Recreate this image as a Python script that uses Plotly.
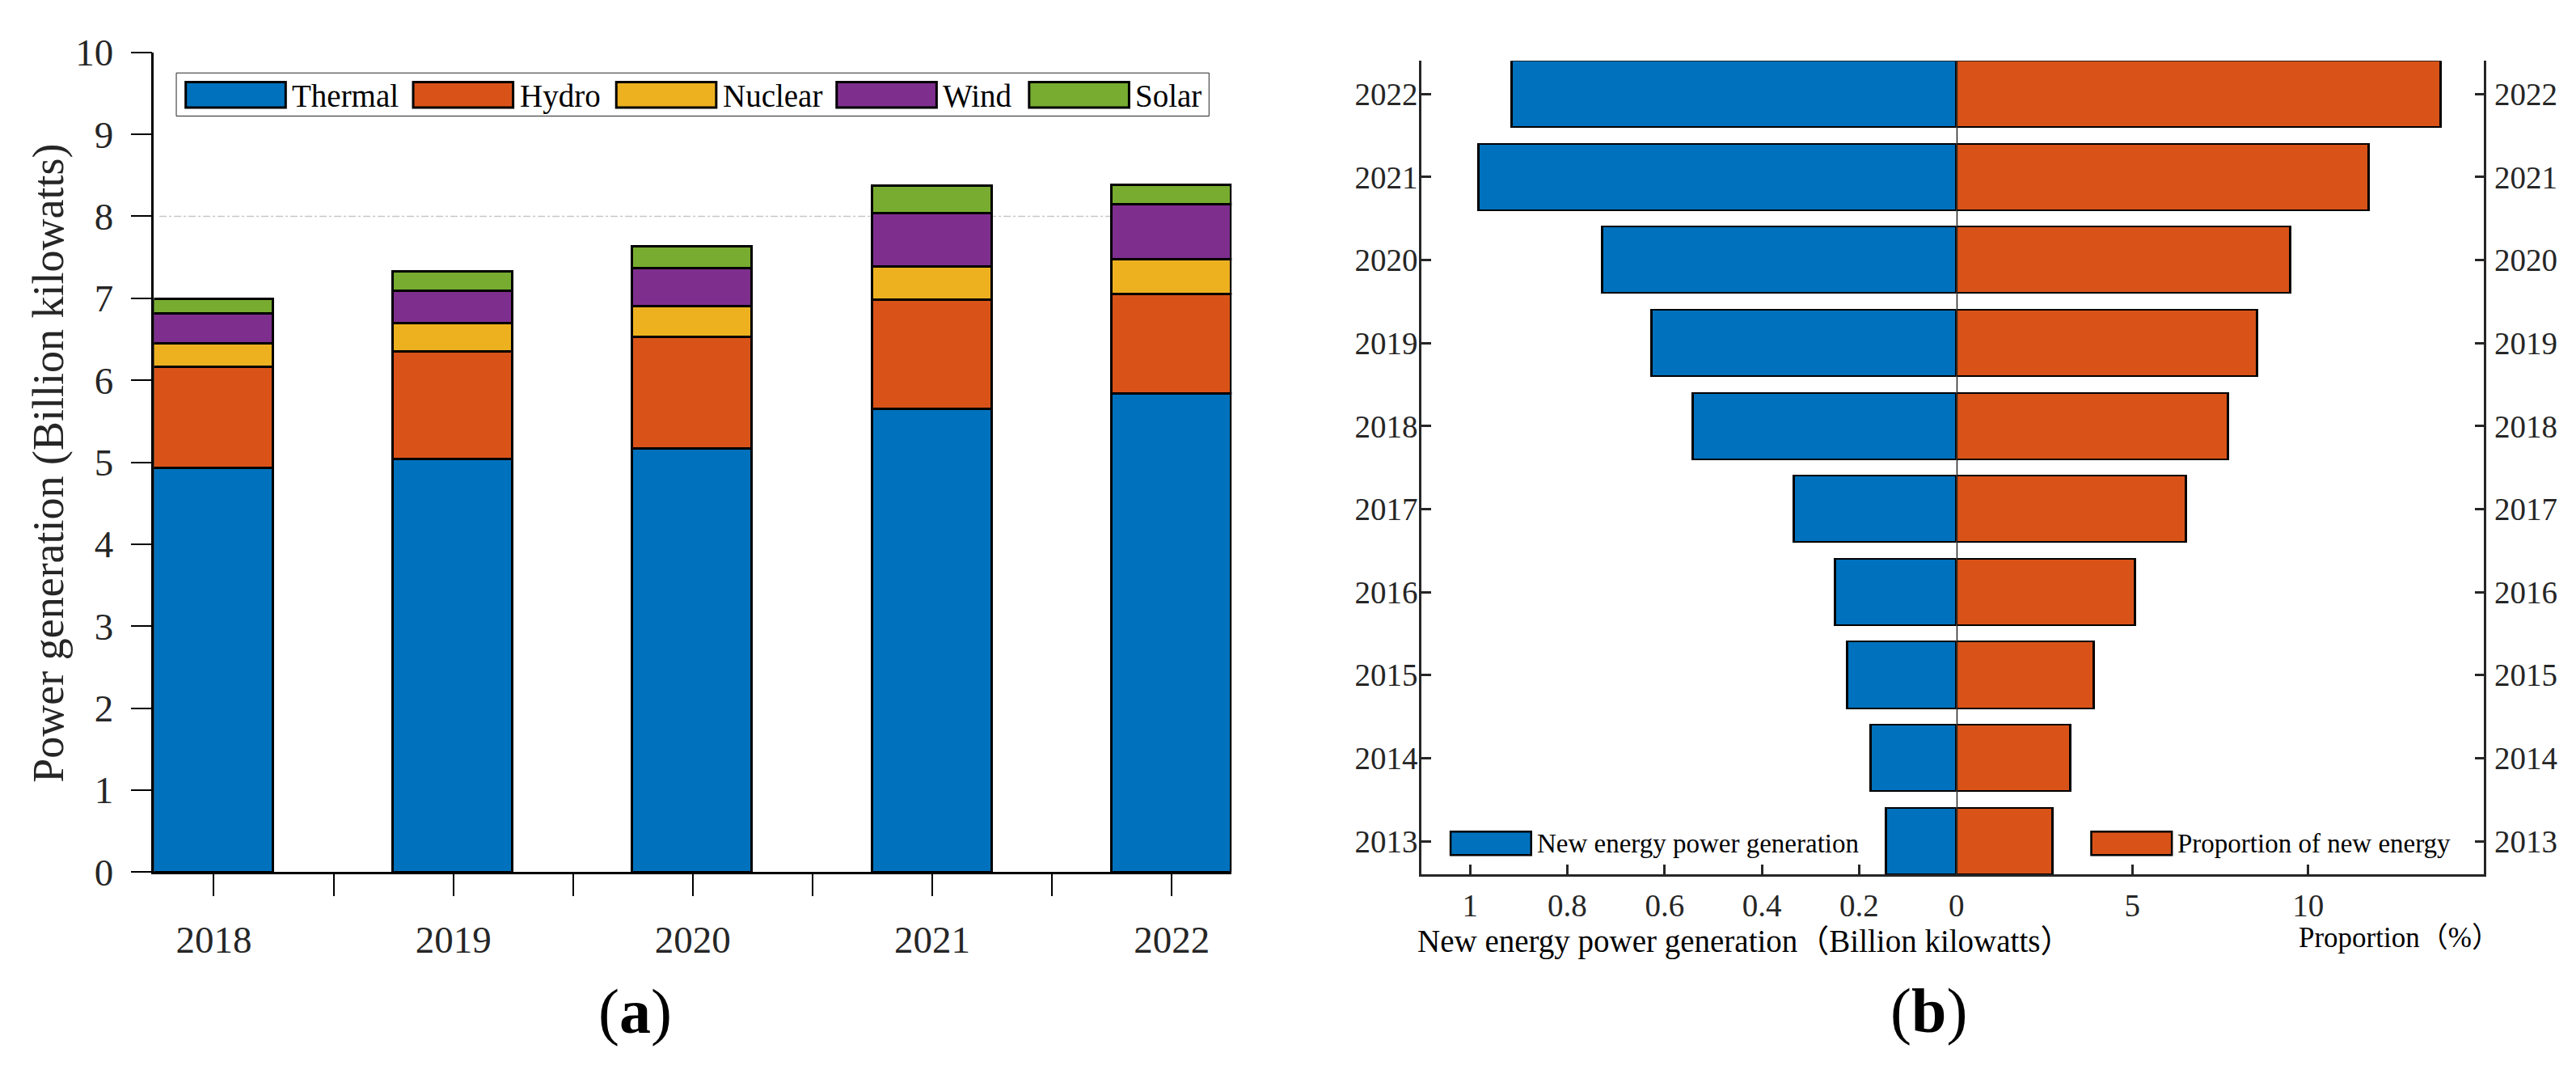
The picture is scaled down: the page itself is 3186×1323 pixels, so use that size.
import plotly.graph_objects as go

# ---------------- data ----------------
years_a = ["2018", "2019", "2020", "2021", "2022"]
series_names = ["Thermal", "Hydro", "Nuclear", "Wind", "Solar"]
thermal = [4.93, 5.04, 5.17, 5.65, 5.84]
hydro = [1.23, 1.31, 1.36, 1.33, 1.21]
nuclear = [0.29, 0.34, 0.37, 0.41, 0.42]
wind = [0.36, 0.40, 0.47, 0.65, 0.68]
solar = [0.18, 0.24, 0.26, 0.33, 0.23]

years_b = [2013, 2014, 2015, 2016, 2017, 2018, 2019, 2020, 2021, 2022]
new_energy = [0.144, 0.176, 0.224, 0.249, 0.333, 0.541, 0.627, 0.727, 0.982, 0.914]
proportion = [2.73, 3.23, 3.90, 5.09, 6.52, 7.72, 8.55, 9.50, 11.71, 13.76]

yticks_a = [0, 1, 2, 3, 4, 5, 6, 7, 8, 9, 10]
xticks_b_left = [1, 0.8, 0.6, 0.4, 0.2, 0]
xticks_b_right = [5, 10]
legend_b_names = ["New energy power generation", "Proportion of new energy"]

# ---------------- styling ----------------
W, H = 3186, 1323
FONT = "Liberation Serif, Times New Roman, Noto Sans CJK SC, serif"
COLORS = ["#0072BD", "#D95319", "#EDB120", "#7E2F8E", "#77AC30"]
AX = "#262626"


def px(x):
    return x / W


def py(y):
    return 1 - y / H


fig = go.Figure()

# ---------------- panel (a): stacked bars ----------------
xpos = list(range(len(years_a)))
for name, vals, col in zip(series_names, [thermal, hydro, nuclear, wind, solar], COLORS):
    fig.add_trace(go.Bar(
        x=xpos, y=vals, name=name, width=0.5,
        marker=dict(color=col, line=dict(color="black", width=3)),
        xaxis="x", yaxis="y", showlegend=False,
    ))

tickvals_a = []
ticktext_a = []
for i, yr in enumerate(years_a):
    tickvals_a.append(i)
    ticktext_a.append(yr)
    if i < len(years_a) - 1:
        tickvals_a.append(i + 0.5)
        ticktext_a.append("")

# ---------------- panel (b): butterfly bars ----------------
fig.add_trace(go.Bar(
    x=new_energy, y=years_b, orientation="h", width=0.8,
    marker=dict(color=COLORS[0], line=dict(color="black", width=2.5)),
    xaxis="x2", yaxis="y2", showlegend=False, name=legend_b_names[0],
))
fig.add_trace(go.Bar(
    x=proportion, y=years_b, orientation="h", width=0.8,
    marker=dict(color=COLORS[1], line=dict(color="black", width=2.5)),
    xaxis="x3", yaxis="y3", showlegend=False, name=legend_b_names[1],
))

tickfont_a = dict(family=FONT, size=47, color=AX)
tickfont_b = dict(family=FONT, size=39, color=AX)

fig.update_layout(
    width=W, height=H, autosize=False,
    margin=dict(l=0, r=0, t=0, b=0),
    paper_bgcolor="white", plot_bgcolor="rgba(0,0,0,0)",
    barmode="stack", bargap=0,
    font=dict(family=FONT, color="black"),
    xaxis=dict(
        domain=[px(183), px(1520)], range=[-0.25, 4.25], anchor="y",
        tickmode="array", tickvals=tickvals_a, ticktext=ticktext_a,
        ticks="outside", ticklen=27, tickwidth=1.5, tickcolor="black",
        showline=True, linecolor="black", linewidth=2.5,
        showgrid=False, zeroline=False, tickfont=tickfont_a, ticklabelstandoff=14,
    ),
    yaxis=dict(
        domain=[py(1087), py(32)], range=[0, 10], anchor="x",
        tickmode="array", tickvals=yticks_a,
        ticks="outside", ticklen=26, tickwidth=1.5, tickcolor="black",
        showline=True, linecolor="black", linewidth=2.5,
        showgrid=False, zeroline=False, tickfont=tickfont_a, ticklabelstandoff=12,
    ),
    xaxis2=dict(
        domain=[px(1755.5), px(2419.3)], range=[1.1, 0], anchor="y2",
        tickmode="array", tickvals=xticks_b_left,
        ticktext=[("%g" % v) for v in xticks_b_left],
        ticks="inside", ticklen=12, tickwidth=2.5, tickcolor=AX,
        showline=True, linecolor=AX, linewidth=2.5,
        showgrid=False, zeroline=False, tickfont=tickfont_b, ticklabelstandoff=2,
    ),
    xaxis3=dict(
        domain=[px(2419.3), px(3074)], range=[0, 15], anchor="y3",
        tickmode="array", tickvals=xticks_b_right,
        ticks="inside", ticklen=12, tickwidth=2.5, tickcolor=AX,
        showline=True, linecolor=AX, linewidth=2.5,
        showgrid=False, zeroline=False, tickfont=tickfont_b, ticklabelstandoff=2,
    ),
    yaxis2=dict(
        domain=[py(1090), py(43)], range=[2012.6, 2022.4], anchor="x2", side="left",
        tickmode="array", tickvals=years_b,
        ticks="inside", ticklen=12, tickwidth=2.5, tickcolor=AX,
        showline=True, linecolor=AX, linewidth=2.5,
        showgrid=False, zeroline=False, tickfont=tickfont_b, ticklabelstandoff=-6,
    ),
    yaxis3=dict(
        domain=[py(1090), py(43)], range=[2012.6, 2022.4], anchor="x3", side="right",
        tickmode="array", tickvals=years_b,
        ticks="inside", ticklen=12, tickwidth=2.5, tickcolor=AX,
        showline=True, linecolor=AX, linewidth=2.5,
        showgrid=False, zeroline=False, tickfont=tickfont_b, ticklabelstandoff=2,
    ),
)

shapes = []
annotations = []

# reference line at 8 in panel (a)
shapes.append(dict(type="line", xref="x domain", yref="y", x0=0.005, x1=1, y0=8, y1=8,
                   line=dict(color="#c8c8c8", width=1.5, dash="dashdot"), layer="below"))

# zero line in panel (b)
shapes.append(dict(type="line", xref="x3", yref="y3 domain", x0=0, x1=0, y0=0, y1=1,
                   line=dict(color=AX, width=3), layer="above"))

# legend (a)
shapes.append(dict(type="rect", xref="paper", yref="paper",
                   x0=px(210.7), x1=px(1492), y0=py(114), y1=py(58.5),
                   line=dict(color="#262626", width=1), fillcolor="white", layer="above"))
leg_a_x = [222.4, 504.6, 756.6, 1030, 1268.8]
sw_w, sw_top, sw_bot = 124, 70.3, 103.1
for x0, name, col in zip(leg_a_x, series_names, COLORS):
    shapes.append(dict(type="rect", xref="paper", yref="paper",
                       x0=px(x0), x1=px(x0 + sw_w), y0=py(sw_bot), y1=py(sw_top),
                       line=dict(color="black", width=3), fillcolor=col, layer="above"))
    annotations.append(dict(xref="paper", yref="paper", x=px(x0 + sw_w + 6), y=py(88),
                            text=name, showarrow=False, xanchor="left", yanchor="middle",
                            font=dict(family=FONT, size=39, color="black")))

# legend (b)
leg_b_x = [1791.7, 2586.6]
for x0, name, col in zip(leg_b_x, legend_b_names, COLORS[:2]):
    shapes.append(dict(type="rect", xref="paper", yref="paper",
                       x0=px(x0), x1=px(x0 + 100), y0=py(1065), y1=py(1035),
                       line=dict(color="black", width=2.5), fillcolor=col, layer="above"))
    annotations.append(dict(xref="paper", yref="paper", x=px(x0 + 105), y=py(1050),
                            text=name, showarrow=False, xanchor="left", yanchor="middle",
                            font=dict(family=FONT, size=33, color="black")))

# axis titles
annotations.append(dict(xref="paper", yref="paper", x=px(52), y=py(561),
                        text="Power generation (Billion kilowatts)", textangle=-90,
                        showarrow=False, xanchor="center", yanchor="middle",
                        font=dict(family=FONT, size=54, color=AX)))
annotations.append(dict(xref="paper", yref="paper", x=px(1748), y=py(1176),
                        text="New energy power generation（Billion kilowatts）",
                        showarrow=False, xanchor="left", yanchor="middle",
                        font=dict(family=FONT, size=39, color="black")))
annotations.append(dict(xref="paper", yref="paper", x=px(3096), y=py(1172),
                        text="Proportion（%）",
                        showarrow=False, xanchor="right", yanchor="middle",
                        font=dict(family=FONT, size=35, color="black")))

# panel labels
annotations.append(dict(xref="paper", yref="paper", x=px(780), y=py(1266),
                        text="(<b>a</b>)", showarrow=False, xanchor="center", yanchor="middle",
                        font=dict(family=FONT, size=78, color="black")))
annotations.append(dict(xref="paper", yref="paper", x=px(2385), y=py(1265),
                        text="(<b>b</b>)", showarrow=False, xanchor="center", yanchor="middle",
                        font=dict(family=FONT, size=78, color="black")))

fig.update_layout(shapes=shapes, annotations=annotations)
fig.write_html("out.html")
